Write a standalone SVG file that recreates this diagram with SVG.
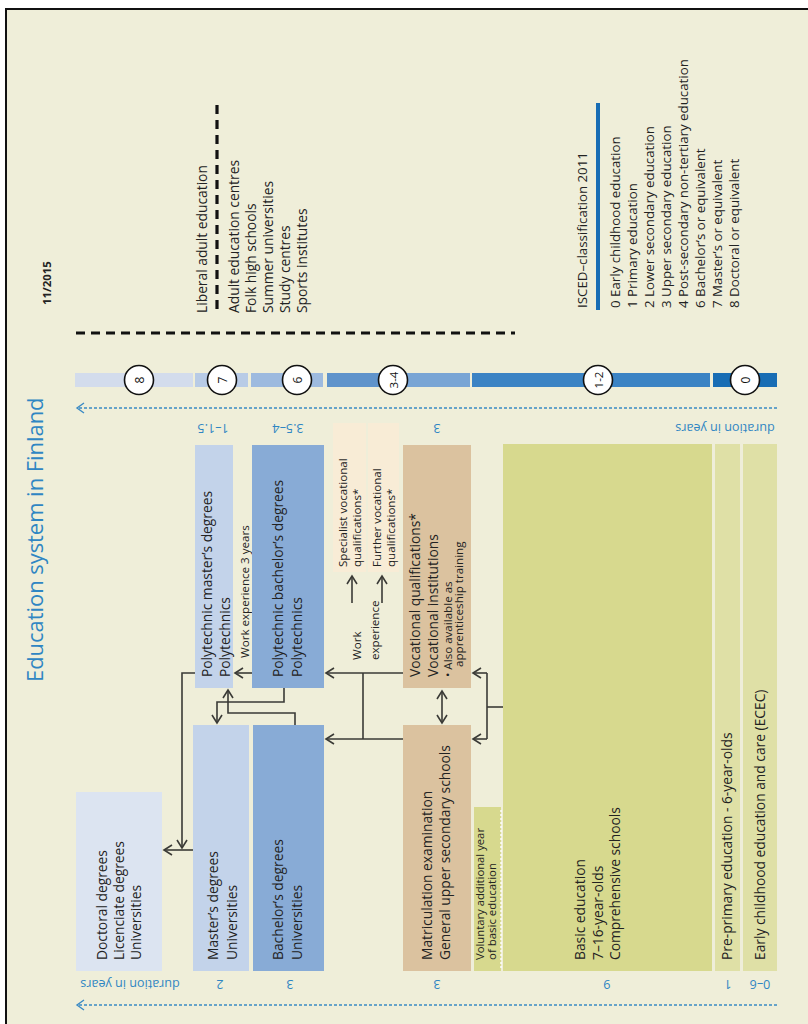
<svg xmlns="http://www.w3.org/2000/svg" width="808" height="1024" viewBox="0 0 808 1024">
  <defs>
    <style>
      text { font-family: "Open Sans", "Liberation Sans", sans-serif; fill: #222; }
      .t13 { font-size: 13.8px; }
      .t10 { font-size: 11.6px; }
      .legend { font-size: 13.3px; }
      .blue { fill: #2f86c3; }
      .dur { font-size: 12.6px; fill: #2f86c3; text-anchor: middle; }
      .num { font-size: 12px; text-anchor: middle; fill: #111; }
      .ring { fill: #fff; stroke: #111; stroke-width: 1.6; }
      .conn { fill: none; stroke: #3a3a36; stroke-width: 1.6; }
      .axis { fill: none; stroke: #3a8ac4; stroke-width: 1.3; stroke-dasharray: 3 2; }
      .dash { fill: none; stroke: #111; stroke-width: 3.2; stroke-dasharray: 9 6; }
    </style>
    <marker id="arrow" markerUnits="userSpaceOnUse" viewBox="-10 -7 12 14" refX="0" refY="0" markerWidth="12" markerHeight="14" orient="auto-start-reverse">
      <path d="M-8,-5 L0,0 L-8,5" fill="none" stroke="#3a3a36" stroke-width="1.6"/>
    </marker>
    <marker id="arrowBlue" markerUnits="userSpaceOnUse" viewBox="-10 -7 12 14" refX="0" refY="0" markerWidth="12" markerHeight="14" orient="auto-start-reverse">
      <path d="M-7,-5 L0,0 L-7,5" fill="none" stroke="#3a8ac4" stroke-width="1.4"/>
    </marker>
  </defs>

  <!-- page -->
  <rect x="0" y="0" width="808" height="1024" fill="#ffffff"/>
  <rect x="6" y="9" width="812" height="1022" fill="#efeed9" stroke="#111" stroke-width="2"/>

  <!-- title and date -->
  <g id="title">
    <text transform="rotate(-90)" x="-682" y="43" class="blue" style="font-size:21.9px">Education system in Finland</text>
    <text transform="rotate(-90)" x="-305" y="51" style="font-size:11.4px;font-weight:bold">11/2015</text>
  </g>

  <!-- ISCED level bar -->
  <g id="isced-bar">
    <rect x="75" y="373" width="118" height="14" fill="#d3dcec"/>
    <rect x="195" y="373" width="53" height="14" fill="#b8cbe6"/>
    <rect x="251" y="373" width="72" height="14" fill="#9dbadf"/>
    <rect x="327" y="373" width="68" height="14" fill="#5f93cb"/>
    <rect x="395" y="373" width="75" height="14" fill="#79a5d5"/>
    <rect x="472" y="373" width="238" height="14" fill="#3b83c4"/>
    <rect x="713" y="373" width="64" height="14" fill="#186db4"/>
    <g transform="translate(139,380)"><circle r="14.5" class="ring"/><text transform="rotate(-90)" y="4.5" class="num">8</text></g>
    <g transform="translate(222,380)"><circle r="14.5" class="ring"/><text transform="rotate(-90)" y="4.5" class="num">7</text></g>
    <g transform="translate(297,380)"><circle r="14.5" class="ring"/><text transform="rotate(-90)" y="4.5" class="num">6</text></g>
    <g transform="translate(393,380)"><circle r="14.5" class="ring"/><text transform="rotate(-90)" y="4.5" class="num" style="font-size:11.5px">3-4</text></g>
    <g transform="translate(598,380)"><circle r="14.5" class="ring"/><text transform="rotate(-90)" y="4.5" class="num" style="font-size:11.5px">1-2</text></g>
    <g transform="translate(745,380)"><circle r="14.5" class="ring"/><text transform="rotate(-90)" y="4.5" class="num">0</text></g>
  </g>

  <!-- duration axes -->
  <g id="duration-top">
    <path d="M777,408 H77" class="axis" marker-end="url(#arrowBlue)"/>
    <text transform="rotate(180)" x="-725" y="-423.5" class="dur">duration in years</text>
    <text transform="rotate(180)" x="-213" y="-423.5" class="dur">1–1.5</text>
    <text transform="rotate(180)" x="-288" y="-423.5" class="dur">3.5–4</text>
    <text transform="rotate(180)" x="-437" y="-423.5" class="dur">3</text>
  </g>
  <g id="duration-bottom">
    <path d="M777,1005 H77" class="axis" marker-end="url(#arrowBlue)"/>
    <text transform="rotate(180)" x="-130" y="-980" class="dur">duration in years</text>
    <text transform="rotate(180)" x="-220" y="-980" class="dur">2</text>
    <text transform="rotate(180)" x="-290" y="-980" class="dur">3</text>
    <text transform="rotate(180)" x="-437" y="-980" class="dur">3</text>
    <text transform="rotate(180)" x="-607" y="-980" class="dur">9</text>
    <text transform="rotate(180)" x="-728" y="-980" class="dur">1</text>
    <text transform="rotate(180)" x="-760" y="-980" class="dur">0–6</text>
  </g>

  <!-- liberal adult education -->
  <g id="liberal-adult-education">
    <path d="M76,333 H515" class="dash"/>
    <path d="M217,105 V310" class="dash"/>
    <text transform="rotate(-90)" x="-313" y="207" class="t13">Liberal adult education</text>
    <text transform="rotate(-90)" class="t13">
      <tspan x="-313" y="239">Adult education centres</tspan>
      <tspan x="-313" dy="17">Folk high schools</tspan>
      <tspan x="-313" dy="17">Summer universities</tspan>
      <tspan x="-313" dy="17">Study centres</tspan>
      <tspan x="-313" dy="17">Sports institutes</tspan>
    </text>
  </g>

  <!-- ISCED legend -->
  <g id="isced-legend">
    <path d="M598,103 V310" stroke="#186db4" stroke-width="4"/>
    <text transform="rotate(-90)" x="-308" y="587" class="legend">ISCED–classification  2011</text>
    <text transform="rotate(-90)" class="legend">
      <tspan x="-308" y="620">0 Early childhood education</tspan>
      <tspan x="-308" dy="17">1 Primary education</tspan>
      <tspan x="-308" dy="17">2 Lower secondary education</tspan>
      <tspan x="-308" dy="17">3 Upper secondary education</tspan>
      <tspan x="-308" dy="17">4 Post-secondary non-tertiary education</tspan>
      <tspan x="-308" dy="17">6 Bachelor’s or equivalent</tspan>
      <tspan x="-308" dy="17">7 Master’s or equivalent</tspan>
      <tspan x="-308" dy="17">8 Doctoral or equivalent</tspan>
    </text>
  </g>

  <!-- nodes -->
  <g id="poly-masters">
    <rect x="195" y="445" width="38" height="243" fill="#c3d3ea"/>
    <text transform="rotate(-90)" class="t13"><tspan x="-677" y="212">Polytechnic master’s degrees</tspan><tspan x="-677" y="230">Polytechnics</tspan></text>
    <text transform="rotate(-90)" x="-658" y="249" class="t10">Work experience 3 years</text>
  </g>
  <g id="poly-bachelors">
    <rect x="252" y="445" width="72" height="243" fill="#88abd6"/>
    <text transform="rotate(-90)" class="t13"><tspan x="-677" y="283">Polytechnic bachelor’s degrees</tspan><tspan x="-677" y="302">Polytechnics</tspan></text>
  </g>
  <g id="further-qualifications">
    <rect x="333" y="423" width="33" height="149" fill="#f8ecd6"/>
    <rect x="368" y="423" width="31" height="149" fill="#f8ecd6"/>
    <text transform="rotate(-90)" class="t10"><tspan x="-567" y="347">Specialist vocational</tspan><tspan x="-567" y="361">qualifications*</tspan></text>
    <text transform="rotate(-90)" class="t10"><tspan x="-567" y="381">Further vocational</tspan><tspan x="-567" y="395">qualifications*</tspan></text>
    <text transform="rotate(-90)" class="t10"><tspan x="-660" y="361">Work</tspan><tspan x="-660" y="379">experience</tspan></text>
  </g>
  <g id="vocational">
    <rect x="403" y="445" width="68" height="243" fill="#dbc29f"/>
    <text transform="rotate(-90)" class="t13"><tspan x="-677" y="420">Vocational qualifications*</tspan><tspan x="-677" y="438">Vocational institutions</tspan></text>
    <text transform="rotate(-90)" style="font-size:11.6px"><tspan x="-677" y="452">•  Also available as</tspan><tspan x="-667" y="463">apprenticeship training</tspan></text>
  </g>
  <g id="basic-education">
    <rect x="503" y="444" width="209" height="527" fill="#d7d98e"/>
    <text transform="rotate(-90)" class="t13"><tspan x="-960" y="585">Basic education</tspan><tspan x="-960" y="603">7–16-year-olds</tspan><tspan x="-960" y="620">Comprehensive schools</tspan></text>
  </g>
  <g id="pre-primary">
    <rect x="715" y="444" width="25" height="527" fill="#dfe0a6"/>
    <text transform="rotate(-90)" x="-960" y="732" class="t13">Pre-primary education - 6-year-olds</text>
  </g>
  <g id="ecec">
    <rect x="743" y="444" width="34" height="527" fill="#dfe0a6"/>
    <text transform="rotate(-90)" x="-960" y="765" class="t13">Early childhood education and care (ECEC)</text>
  </g>
  <g id="doctoral">
    <rect x="76" y="792" width="86" height="179" fill="#dce4f1"/>
    <text transform="rotate(-90)" class="t13"><tspan x="-960" y="107">Doctoral degrees</tspan><tspan x="-960" y="124">Licenciate degrees</tspan><tspan x="-960" y="141">Universities</tspan></text>
  </g>
  <g id="masters">
    <rect x="193" y="725" width="56" height="246" fill="#c3d3ea"/>
    <text transform="rotate(-90)" class="t13"><tspan x="-960" y="218">Master’s degrees</tspan><tspan x="-960" y="237">Universities</tspan></text>
  </g>
  <g id="bachelors">
    <rect x="253" y="725" width="71" height="246" fill="#88abd6"/>
    <text transform="rotate(-90)" class="t13"><tspan x="-960" y="283">Bachelor’s degrees</tspan><tspan x="-960" y="302">Universities</tspan></text>
  </g>
  <g id="upper-secondary">
    <rect x="403" y="725" width="68" height="246" fill="#dbc29f"/>
    <text transform="rotate(-90)" class="t13"><tspan x="-960" y="432">Matriculation examination</tspan><tspan x="-960" y="450">General upper secondary schools</tspan></text>
  </g>
  <g id="voluntary-year">
    <rect x="474" y="807" width="27" height="164" fill="#d7d98e"/>
    <path d="M501,810 V970" stroke="#ffffff" stroke-width="1.4" stroke-dasharray="2 2"/>
    <text transform="rotate(-90)" style="font-size:10.5px"><tspan x="-960" y="484" textLength="132" lengthAdjust="spacingAndGlyphs">Voluntary additional year</tspan><tspan x="-960" y="496" textLength="97" lengthAdjust="spacingAndGlyphs">of basic education</tspan></text>
  </g>

  <!-- connectors -->
  <g id="connectors">
    <path d="M403,673 H326" class="conn" marker-end="url(#arrow)"/>
    <path d="M403,739 H326" class="conn" marker-end="url(#arrow)"/>
    <path d="M363,673 V739" class="conn"/>
    <path d="M252,673 H235" class="conn" marker-end="url(#arrow)"/>
    <path d="M195,673 H182 V848" class="conn" marker-end="url(#arrow)"/>
    <path d="M193,850 H164" class="conn" marker-end="url(#arrow)"/>
    <path d="M284,688 V702 H217 V723" class="conn" marker-end="url(#arrow)"/>
    <path d="M295,725 V713 H228 V690" class="conn" marker-end="url(#arrow)"/>
    <path d="M442,691 V723" class="conn" marker-start="url(#arrow)" marker-end="url(#arrow)"/>
    <path d="M503,707 H487" class="conn"/>
    <path d="M487,673 V739" class="conn"/>
    <path d="M487,673 H473" class="conn" marker-end="url(#arrow)"/>
    <path d="M487,739 H473" class="conn" marker-end="url(#arrow)"/>
    <path d="M352,603 V576" class="conn" marker-end="url(#arrow)"/>
    <path d="M382,603 V576" class="conn" marker-end="url(#arrow)"/>
  </g>
</svg>
